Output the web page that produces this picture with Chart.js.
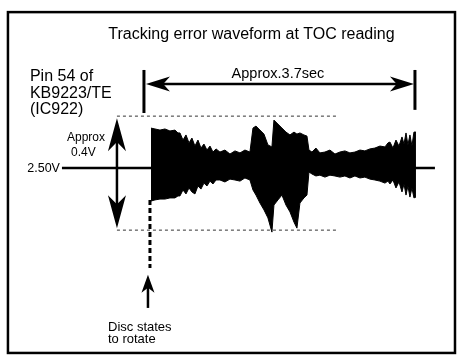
<!DOCTYPE html>
<html lang="en">
<head>
    <meta charset="UTF-8">
    <title>Tracking error waveform at TOC reading</title>
    <script src="https://cdn.jsdelivr.net/npm/chart.js"></script>
    <style>
        body {
            margin: 0;
            background: #fff;
        }

        .wrap {
            width: 459px;
            height: 360px;
        }
    </style>
</head>
<body>
    <div class="wrap">
        <canvas id="te-chart"></canvas>
    </div>

    <script>
        // Waveform envelope (time in s, level in V)
        const times = [0, 0.056, 0.126, 0.195, 0.265, 0.335, 0.377,
            0.405, 0.447, 0.489, 0.531, 0.572, 0.614, 0.656, 0.698, 0.740, 0.782, 0.824, 0.866, 0.908,
            0.963, 1.033, 1.103, 1.173, 1.243, 1.312, 1.382, 1.424, 1.466, 1.522, 1.578, 1.633, 1.689, 1.717,
            1.773, 1.829, 1.885, 1.941, 1.997, 2.038, 2.080, 2.136, 2.178, 2.206, 2.248, 2.303, 2.359, 2.429,
            2.499, 2.569, 2.638, 2.708, 2.778, 2.848, 2.918, 2.987, 3.057, 3.127, 3.197,
            3.267, 3.309, 3.337, 3.379, 3.421, 3.463, 3.505, 3.533, 3.561, 3.588, 3.616, 3.644, 3.672, 3.700];
        const upperV = [2.640, 2.637, 2.633, 2.637, 2.630, 2.633, 2.623,
            2.623, 2.598, 2.616, 2.588, 2.605, 2.577, 2.598, 2.570, 2.584, 2.563, 2.577, 2.556, 2.567,
            2.556, 2.563, 2.549, 2.560, 2.553, 2.563, 2.556, 2.640, 2.647, 2.633, 2.619, 2.581, 2.574, 2.668,
            2.654, 2.640, 2.626, 2.616, 2.626, 2.619, 2.623, 2.616, 2.612, 2.563, 2.556, 2.570, 2.553, 2.556,
            2.563, 2.549, 2.556, 2.560, 2.553, 2.556, 2.563, 2.560, 2.567, 2.570, 2.577,
            2.574, 2.588, 2.591, 2.570, 2.598, 2.577, 2.609, 2.584, 2.623, 2.581, 2.616, 2.577, 2.626, 2.626];
        const lowerV = [2.384, 2.388, 2.391, 2.391, 2.395, 2.395, 2.402,
            2.402, 2.423, 2.409, 2.430, 2.416, 2.409, 2.437, 2.426, 2.447, 2.437, 2.454, 2.444, 2.458,
            2.458, 2.451, 2.461, 2.458, 2.454, 2.465, 2.458, 2.423, 2.405, 2.377, 2.353, 2.325, 2.275, 2.370,
            2.388, 2.405, 2.370, 2.346, 2.310, 2.289, 2.377, 2.395, 2.405, 2.486, 2.479, 2.472, 2.475, 2.468,
            2.475, 2.472, 2.468, 2.472, 2.465, 2.472, 2.465, 2.468, 2.461, 2.458, 2.454,
            2.447, 2.454, 2.444, 2.458, 2.430, 2.451, 2.416, 2.444, 2.405, 2.437, 2.398, 2.430, 2.395, 2.398];

        // Reference levels and markers
        const centerLevel = 2.50;
        const ppTop = 2.682;
        const ppBottom = 2.282;
        const sweepStart = 0;
        const sweepEnd = 3.7;

        // Labels
        const titleText = 'Tracking error waveform at TOC reading';
        const pinLines = ['Pin 54 of', 'KB9223/TE', '(IC922)'];
        const durationText = 'Approx.3.7sec';
        const ppLines = ['Approx', '0.4V'];
        const centerText = '2.50V';
        const startLines = ['Disc states', 'to rotate'];

        const FONT = '"Liberation Sans", Arial, Helvetica, sans-serif';

        // Swallowtail arrow head, tip at (x, y), pointing along (dx, dy)
        function arrowHead(ctx, x, y, dx, dy, len, half) {
            const px = -dy, py = dx;
            ctx.beginPath();
            ctx.moveTo(x, y);
            ctx.lineTo(x - dx * len + px * half, y - dy * len + py * half);
            ctx.lineTo(x - dx * len * 0.72, y - dy * len * 0.72);
            ctx.lineTo(x - dx * len - px * half, y - dy * len - py * half);
            ctx.closePath();
            ctx.fill();
        }

        function line(ctx, x1, y1, x2, y2, w, dash) {
            ctx.save();
            ctx.lineWidth = w;
            ctx.setLineDash(dash || []);
            ctx.beginPath();
            ctx.moveTo(x1, y1);
            ctx.lineTo(x2, y2);
            ctx.stroke();
            ctx.restore();
        }

        function text(ctx, str, x, y, size, align) {
            ctx.font = size + 'px ' + FONT;
            ctx.textAlign = align || 'left';
            ctx.textBaseline = 'alphabetic';
            ctx.fillText(str, x, y);
        }

        // Baseline behind the trace
        const baselinePlugin = {
            id: 'baseline',
            beforeDatasetsDraw(chart) {
                const { ctx, scales: { x, y } } = chart;
                ctx.save();
                ctx.strokeStyle = '#000';
                line(ctx, x.getPixelForValue(-1.243), y.getPixelForValue(centerLevel),
                    x.getPixelForValue(3.965), y.getPixelForValue(centerLevel), 2.5);
                ctx.restore();
            }
        };

        // Frame, arrows and notes
        const notesPlugin = {
            id: 'notes',
            afterDatasetsDraw(chart) {
                const { ctx, scales: { x, y } } = chart;
                const X = v => x.getPixelForValue(v);
                const Y = v => y.getPixelForValue(v);
                ctx.save();
                ctx.strokeStyle = '#000';
                ctx.fillStyle = '#000';

                // outer frame
                ctx.lineWidth = 2.5;
                ctx.strokeRect(X(-1.997), Y(3.047), X(4.245) - X(-1.997), Y(1.851) - Y(3.047));

                text(ctx, titleText, X(1.403), Y(2.953), 16, 'center');
                text(ctx, pinLines[0], X(-1.690), Y(2.805), 16);
                text(ctx, pinLines[1], X(-1.690), Y(2.746), 16);
                text(ctx, pinLines[2], X(-1.690), Y(2.689), 16);

                // 3.7 sec span
                line(ctx, X(sweepStart - 0.098), Y(2.844), X(sweepStart - 0.098), Y(2.693), 3);
                line(ctx, X(sweepEnd - 0.014), Y(2.844), X(sweepEnd - 0.014), Y(2.704), 3);
                const ay = Y(2.795);
                line(ctx, X(sweepStart - 0.070) + 10, ay, X(sweepEnd - 0.028) - 10, ay, 2.5);
                arrowHead(ctx, X(sweepStart - 0.070), ay, -1, 0, 24, 7.5);
                arrowHead(ctx, X(sweepEnd - 0.028), ay, 1, 0, 24, 7.5);
                text(ctx, durationText, X(1.773), Y(2.816), 14.5, 'center');

                // 0.4 V peak-to-peak limits
                ctx.strokeStyle = '#333';
                line(ctx, X(-0.475), Y(ppTop), X(2.597), Y(ppTop), 1, [3, 3]);
                line(ctx, X(-0.475), Y(ppBottom), X(2.597), Y(ppBottom), 1, [3, 3]);
                ctx.strokeStyle = '#000';
                const vx = X(-0.475);
                line(ctx, vx, Y(ppTop) + 15, vx, Y(ppBottom) - 15, 2.5);
                arrowHead(ctx, vx, Y(ppTop - 0.007), 0, -1, 33, 9);
                arrowHead(ctx, vx, Y(ppBottom + 0.007), 0, 1, 33, 9);
                text(ctx, ppLines[0], X(-1.173), Y(2.595), 12);
                text(ctx, ppLines[1], X(-1.117), Y(2.542), 12);
                text(ctx, centerText, X(-1.271), Y(2.486), 12.5, 'right');

                // start of rotation
                line(ctx, X(sweepStart - 0.014), Y(2.388), X(sweepStart - 0.014), Y(2.149), 3, [5, 3]);
                const ux = X(sweepStart - 0.042);
                line(ctx, ux, Y(2.009), ux, Y(2.125) + 10, 2.5);
                arrowHead(ctx, ux, Y(2.125), 0, -1, 18, 6.5);
                text(ctx, startLines[0], X(-0.600), Y(1.928), 13);
                text(ctx, startLines[1], X(-0.600), Y(1.886), 13);

                ctx.restore();
            }
        };

        const upperPts = times.map((t, i) => ({ x: t, y: upperV[i] }));
        const lowerPts = times.map((t, i) => ({ x: t, y: lowerV[i] }));

        new Chart(document.getElementById('te-chart'), {
            type: 'line',
            data: {
                datasets: [
                    {
                        label: 'TE upper',
                        data: upperPts,
                        borderColor: '#000',
                        backgroundColor: '#000',
                        borderWidth: 1,
                        pointRadius: 0,
                        tension: 0,
                        fill: '+1',
                    },
                    {
                        label: 'TE lower',
                        data: lowerPts,
                        borderColor: '#000',
                        backgroundColor: '#000',
                        borderWidth: 1,
                        pointRadius: 0,
                        tension: 0,
                        fill: false,
                    },
                ],
            },
            options: {
                responsive: true,
                maintainAspectRatio: false,
                animation: false,
                layout: { padding: 0 },
                plugins: {
                    legend: { display: false },
                    tooltip: { enabled: false },
                },
                scales: {
                    x: { type: 'linear', display: false, min: -2.108, max: 4.301 },
                    y: { type: 'linear', display: false, min: 1.8263, max: 3.0895 },
                },
            },
            plugins: [baselinePlugin, notesPlugin],
        });
    </script>
</body>
</html>
